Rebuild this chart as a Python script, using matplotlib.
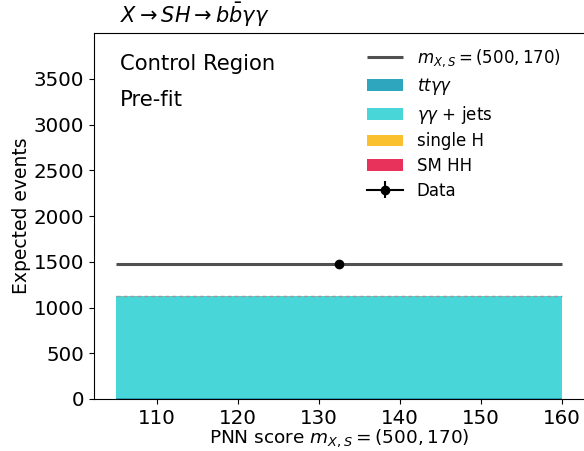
import matplotlib
matplotlib.use('Agg')
import matplotlib.pyplot as plt
import numpy as np

# bin edges and stacked backgrounds (single bin)
bin_edges = [105, 160]
bkg_names = ["$tt\\gamma\\gamma$", "$\\gamma\\gamma$ + jets", "single H", "SM HH"]
bkg_values = [12, 1110, 4, 1]
bkg_colors = ["#2ea6bd", "#48d6d8", "#fbc02d", "#e8315b"]

signal_label = "$m_{X,S} = (500, 170)$"
signal_values = [1480]
data_values = [1480]

plt.rcParams['font.family'] = ['DejaVu Sans']

fig = plt.figure(figsize=(5.84, 4.51), dpi=100)
ax = fig.add_axes([94 / 584, 52 / 451, 490.5 / 584, 366 / 451])

centers = [(bin_edges[0] + bin_edges[1]) / 2]
widths = [bin_edges[1] - bin_edges[0]]
bottom = np.zeros(1)
for name, val, col in zip(bkg_names, bkg_values, bkg_colors):
    ax.bar(centers, [val], width=widths, bottom=bottom, color=col, label=name, linewidth=0)
    bottom += val

# uncertainty edge on top of the stack
ax.hlines(bottom, bin_edges[0], bin_edges[1], colors="#9a9a9a", linestyles=(0, (3, 2)), linewidth=1)

ax.hlines(signal_values, bin_edges[0], bin_edges[1], colors="#505050", linewidth=2.2,
          label=signal_label, zorder=3)
eb = ax.errorbar(centers, data_values, yerr=np.sqrt(data_values), fmt="o", ls="-",
                 color="black", markersize=6, label="Data")
eb[0].set_zorder(5)

ax.set_xlim(102.25, 162.75)
ax.set_ylim(0, 4000)
ax.set_xticks([110, 120, 130, 140, 150, 160])
ax.set_yticks(range(0, 4000, 500))
ax.tick_params(labelsize=14.3)
ax.set_xlabel("PNN score $m_{X,S} = (500, 170)$", fontsize=13.3, labelpad=0)
ax.set_ylabel("Expected events", fontsize=13.5, labelpad=2)

ax.text(0.053, 0.915, "Control Region", transform=ax.transAxes, fontsize=15.2, va="center")
ax.text(0.053, 0.817, "Pre-fit", transform=ax.transAxes, fontsize=15.2, va="center")

handles, labels = ax.get_legend_handles_labels()
order = [labels.index(signal_label)] + [labels.index(n) for n in bkg_names] + [labels.index("Data")]
ax.legend([handles[i] for i in order], [labels[i] for i in order], loc="upper left",
          bbox_to_anchor=(0.542, 0.978), borderaxespad=0, frameon=False, fontsize=12,
          handlelength=2.2, labelspacing=0.4)

fig.text(120 / 584, 1 - 15 / 451, "$X \\rightarrow SH \\rightarrow b\\bar{b}\\gamma\\gamma$",
         fontsize=15, va="center", ha="left")

fig.savefig("out.png", dpi=100)
